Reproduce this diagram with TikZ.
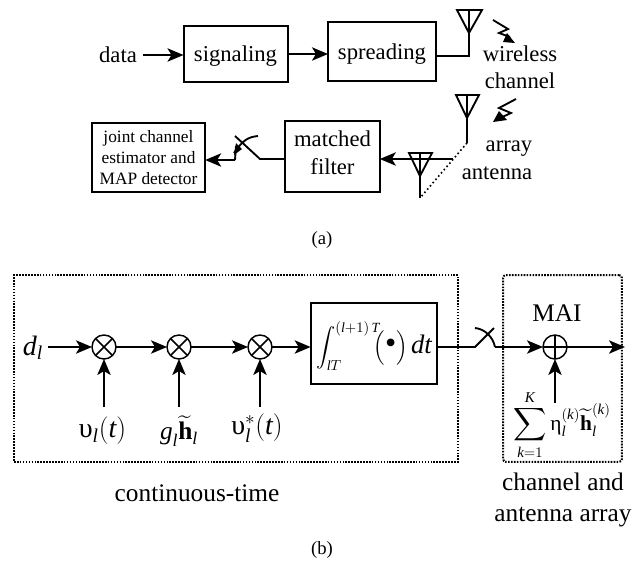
\documentclass[tikz,border=0pt]{standalone}
\usepackage{amsmath}
\usepackage{fontspec}
\setmainfont{Liberation Serif}
\usetikzlibrary{arrows.meta,calc}
\newcommand{\ti}[1]{\text{\itshape #1}}
\newcommand{\hb}{\widetilde{\text{\bfseries h}}}
\begin{document}
\begin{tikzpicture}[x=0.75pt,y=-0.75pt,font=\fontsize{17pt}{20pt}\selectfont,
  blk/.style={draw,line width=1.5pt,inner sep=0pt,outer sep=0pt,align=center},
  mix/.style={draw,circle,line width=1.1pt,minimum size=18pt,inner sep=0pt,outer sep=0pt},
  arr/.style={-{Stealth[length=12pt,width=10pt,inset=3pt]},line width=1.4pt},
  wire/.style={line width=1.4pt},
  sig/.style={line width=1.4pt,line join=miter},
  dots/.style={line width=1.2pt,dotted},
  frame/.style={line width=1.5pt,dash pattern=on 1.2pt off 1pt},
  txt/.style={inner sep=0pt,align=center},
  captxt/.style={inner sep=0pt,font=\fontsize{19pt}{23pt}\selectfont,align=center},
  lab/.style={inner sep=0pt,font=\fontsize{21pt}{23pt}\selectfont}]
\useasboundingbox (0,0) rectangle (644,562);
% part (a)
\node[txt](data) at(118,55){data};
\node[blk,minimum width=78pt,minimum height=42pt,text depth=0pt](sgn) at(235.5,54){signaling};
\node[blk,minimum width=81pt,minimum height=44pt,text depth=0pt](spr) at(382,51.5){spreading};
\node[blk,minimum width=71pt,minimum height=53pt,text depth=6pt](mf) at(332.5,156.5){matched\\[1pt]filter};
\node[blk,minimum width=85pt,minimum height=52pt,font=\fontsize{13pt}{15.5pt}\selectfont](map) at(148.5,157.5){joint channel\\estimator and\\MAP detector};
\node[txt](wl) at(520,67){wireless\\[0.5pt]channel};
\node[txt](arrtxt) at(509,149){array};
\node[txt](anttxt) at(497,173){antenna};
\node[inner sep=0pt,font=\fontsize{14pt}{16pt}\selectfont](capa) at(322,240){(a)};
\coordinate(ds) at(143,55);
\draw[arr](ds)--(sgn.west|-ds);
\draw[arr](sgn.east)--(spr.west|-sgn.east);
% antennas
\coordinate(a1) at(469,33);
\coordinate(a1t) at(469,10);
\coordinate(a1b) at(469,56);
\coordinate(a2) at(467,118);
\coordinate(a2t) at(467,95);
\coordinate(a2b) at(467,143);
\coordinate(a3) at(420,176);
\coordinate(a3t) at(420,153);
\coordinate(a3b) at(420,198);
\coordinate(a3r) at(453,159);
\draw[sig](457,10)--(482,10)--(a1)--cycle;
\draw[wire](a1t)--(a1b)--(spr.east|-a1b);
\draw[sig](456,95)--(479,95)--(a2)--cycle;
\draw[wire](a2t)--(a2b);
\draw[sig](409,153)--(432,153)--(a3)--cycle;
\draw[wire](a3t)--(a3b);
\draw[dots](a2b)--(a3b);
\draw[arr](a3r)--(mf.east|-a3r);
% lightning
\draw[wire](493,20)--(508,29)--(499,33)--(510,37);
\fill(503,42)--(515,43)--(507,33)--cycle;
\draw[wire](516,99)--(499,108)--(511,113)--(498,119);
\fill(493,122)--(507,120)--(499,111)--cycle;
% switch (a)
\coordinate(sw1) at(260,159);
\coordinate(sw2) at(235,136);
\coordinate(sw3) at(235,160);
\draw[wire](mf.west|-sw1)--(sw1)--(sw2);
\draw[wire](234,153) .. controls (243,140) and (248,137) .. (258,136);
\draw[arr](sw3)--(map.east|-sw3);
\draw[wire](sw3)--(236,146);
\fill(234,155)--(236,143)--(242,149)--cycle;
% part (b)
\node[draw,frame,inner sep=0pt,outer sep=0pt,minimum width=333pt,minimum height=140pt](cont) at(236,368.5){};
\node[draw,frame,rounded corners=2pt,inner sep=0pt,outer sep=0pt,minimum width=89pt,minimum height=140pt](chan) at(562.5,368.5){};
\node[lab](dl) at(33,348){$\ti{d}_{\ti{l}}$};
\node[mix](m1) at(104,347){};
\node[mix](m2) at(179,347){};
\node[mix](m3) at(260,347){};
\node[blk,minimum width=95pt,minimum height=61pt](int) at(374,343.5){};
\node[inner sep=0pt,font=\fontsize{15pt}{17pt}\selectfont](itg) at(374,346){$\displaystyle\int_{\ti{l}T}^{(\ti{l}+1)\,\ti{T}}\!\!\Bigl(\text{\fontsize{24pt}{24pt}\selectfont\textbullet}\Bigr)\,\text{\fontsize{20pt}{20pt}\selectfont\itshape dt}$};
\node[mix](pl) at(555,347){};
\foreach \m in {m1,m2,m3}{
  \draw[line width=1.1pt](\m.north west)--(\m.south east);
  \draw[line width=1.1pt](\m.north east)--(\m.south west);
}
\draw[line width=1.1pt](pl.north)--(pl.south);
\draw[line width=1.1pt](pl.west)--(pl.east);
\node[lab](u1) at(102.5,431){$\text{υ}_{\ti{l}}(\ti{t})$};
\node[lab,font=\fontsize{19pt}{21pt}\selectfont](gh) at(179,431){$\ti{g}_{\ti{l}}\hb_{\ti{l}}$};
\node[lab](u2) at(257,428){$\text{υ}_{\ti{l}}^{*}(\ti{t})$};
\node[txt](mai) at(557,313){\fontsize{19pt}{21pt}\selectfont MAI};
\node[inner sep=0pt,font=\fontsize{16pt}{18pt}\selectfont](sum) at(562,425){$\displaystyle\sum_{\ti{k}=1}^{\ti{K}}\text{η}_{\ti{l}}^{(\ti{k})}\hb_{\ti{l}}^{(\ti{k})}$};
\node[captxt](ctn) at(197,493){continuous-time};
\node[captxt](cha) at(563,500){channel and\\antenna array};
\node[inner sep=0pt,font=\fontsize{14pt}{16pt}\selectfont](capb) at(322,550){(b)};
\coordinate(ds2) at(48,347);
\draw[arr](ds2)--(m1);
\draw[arr](m1)--(m2);
\draw[arr](m2)--(m3);
\draw[arr](m3)--(int.west|-m3);
\coordinate(v1) at(104,407);
\coordinate(v2) at(179,407);
\coordinate(v3) at(260,407);
\coordinate(v4) at(555,403);
\coordinate(out) at(625,347);
\draw[arr](v1)--(m1);
\draw[arr](v2)--(m2);
\draw[arr](v3)--(m3);
\draw[arr](v4)--(pl);
\draw[arr](pl)--(out);
% switch (b)
\coordinate(sb1) at(475,347);
\coordinate(sb2) at(494,328);
\coordinate(sb3) at(495,347);
\draw[wire](int.east|-sb1)--(sb1)--(sb2);
\draw[wire](475,328) .. controls (485,329) and (493,337) .. (sb3);
\draw[arr](sb3)--(pl);
\end{tikzpicture}
\end{document}
